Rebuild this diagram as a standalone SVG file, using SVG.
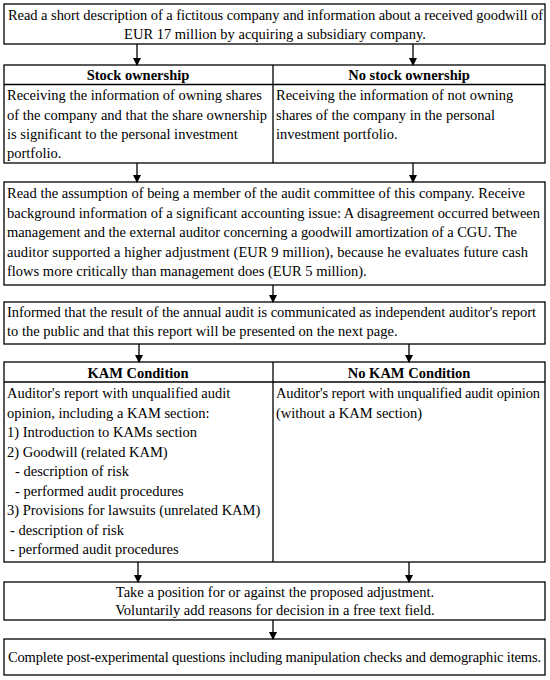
<svg xmlns="http://www.w3.org/2000/svg" width="550" height="680" viewBox="0 0 550 680">
<defs>
<marker id="ah" markerWidth="8" markerHeight="9" refX="7" refY="4" orient="auto" markerUnits="userSpaceOnUse">
<path d="M0,0 L8,4 L0,8 Z" fill="#000"/>
</marker>
<style>
rect.b{fill:#fff;stroke:#000;stroke-width:1.3}
line.d{stroke:#000;stroke-width:1.3}
text{font-size:14.5px;fill:#000}
text.h{font-weight:bold}
text.c{text-anchor:middle}
.con line{stroke:#000;stroke-width:1.3;marker-end:url(#ah)}
</style>
</defs>
<rect width="550" height="680" fill="#fff"/>
<g font-family="Liberation Serif, DejaVu Serif, serif">
<g id="n1">
<rect class="b" x="4" y="4" width="541" height="40"/>
<text class="c" x="275.5" y="20" textLength="535" lengthAdjust="spacing">Read a short description of a fictitous company and information about a received goodwill of</text>
<text class="c" x="275" y="39">EUR 17 million by acquiring a subsidiary company.</text>
</g>
<g id="n2">
<rect class="b" x="4" y="65" width="541" height="98"/>
<line class="d" x1="4" y1="84.5" x2="545" y2="84.5"/>
<line class="d" x1="273" y1="65" x2="273" y2="163"/>
<text class="h c" x="138" y="80">Stock ownership</text>
<text x="7" y="100">Receiving the information of owning shares</text>
<text x="7" y="119.5" textLength="260" lengthAdjust="spacing">of the company and that the share ownership</text>
<text x="7" y="139">is significant to the personal investment</text>
<text x="7" y="158">portfolio.</text>
</g>
<g id="n3">
<text class="h c" x="409" y="80">No stock ownership</text>
<text x="276" y="100">Receiving the information of not owning</text>
<text x="276" y="119.5">shares of the company in the personal</text>
<text x="276" y="139">investment portfolio.</text>
</g>
<g id="n4">
<rect class="b" x="4" y="182" width="541" height="103"/>
<text x="7" y="198" textLength="518" lengthAdjust="spacing">Read the assumption of being a member of the audit committee of this company. Receive</text>
<text x="7" y="218" textLength="533" lengthAdjust="spacing">background information of a significant accounting issue: A disagreement occurred between</text>
<text x="7" y="237" textLength="510" lengthAdjust="spacing">management and the external auditor concerning a goodwill amortization of a CGU. The</text>
<text x="7" y="257" textLength="521" lengthAdjust="spacing">auditor supported a higher adjustment (EUR 9 million), because he evaluates future cash</text>
<text x="7" y="276">flows more critically than management does (EUR 5 million).</text>
</g>
<g id="n5">
<rect class="b" x="4" y="302" width="541" height="42"/>
<text x="7" y="317" textLength="529" lengthAdjust="spacing">Informed that the result of the annual audit is communicated as independent auditor's report</text>
<text x="7" y="336">to the public and that this report will be presented on the next page.</text>
</g>
<g id="n6">
<rect class="b" x="4" y="362" width="541" height="200"/>
<line class="d" x1="4" y1="382" x2="545" y2="382"/>
<line class="d" x1="273" y1="362" x2="273" y2="562"/>
<text class="h c" x="138" y="378">KAM Condition</text>
<text x="7" y="398">Auditor's report with unqualified audit</text>
<text x="7" y="418">opinion, including a KAM section:</text>
<text x="7" y="437">1) Introduction to KAMs section</text>
<text x="7" y="457">2) Goodwill (related KAM)</text>
<text x="15" y="476">- description of risk</text>
<text x="15" y="496">- performed audit procedures</text>
<text x="7" y="515">3) Provisions for lawsuits (unrelated KAM)</text>
<text x="10" y="535">- description of risk</text>
<text x="10" y="554">- performed audit procedures</text>
</g>
<g id="n7">
<text class="h c" x="409" y="378">No KAM Condition</text>
<text x="276" y="398" textLength="264" lengthAdjust="spacing">Auditor's report with unqualified audit opinion</text>
<text x="276" y="418">(without a KAM section)</text>
</g>
<g id="n8">
<rect class="b" x="4" y="582" width="541" height="38"/>
<text class="c" x="275" y="597">Take a position for or against the proposed adjustment.</text>
<text class="c" x="275" y="615">Voluntarily add reasons for decision in a free text field.</text>
</g>
<g id="n9">
<rect class="b" x="4" y="639" width="541" height="36"/>
<text class="c" x="274.5" y="662" textLength="533" lengthAdjust="spacing">Complete post-experimental questions including manipulation checks and demographic items.</text>
</g>
</g>
<g id="connectors" class="con">
<line x1="137" y1="44" x2="137" y2="65"/>
<line x1="413" y1="44" x2="413" y2="65"/>
<line x1="137" y1="163" x2="137" y2="182"/>
<line x1="413" y1="163" x2="413" y2="182"/>
<line x1="273" y1="285" x2="273" y2="302"/>
<line x1="139" y1="344" x2="139" y2="362"/>
<line x1="409" y1="344" x2="409" y2="362"/>
<line x1="138" y1="562" x2="138" y2="582"/>
<line x1="409" y1="562" x2="409" y2="582"/>
<line x1="273" y1="620" x2="273" y2="639"/>
</g>
</svg>
